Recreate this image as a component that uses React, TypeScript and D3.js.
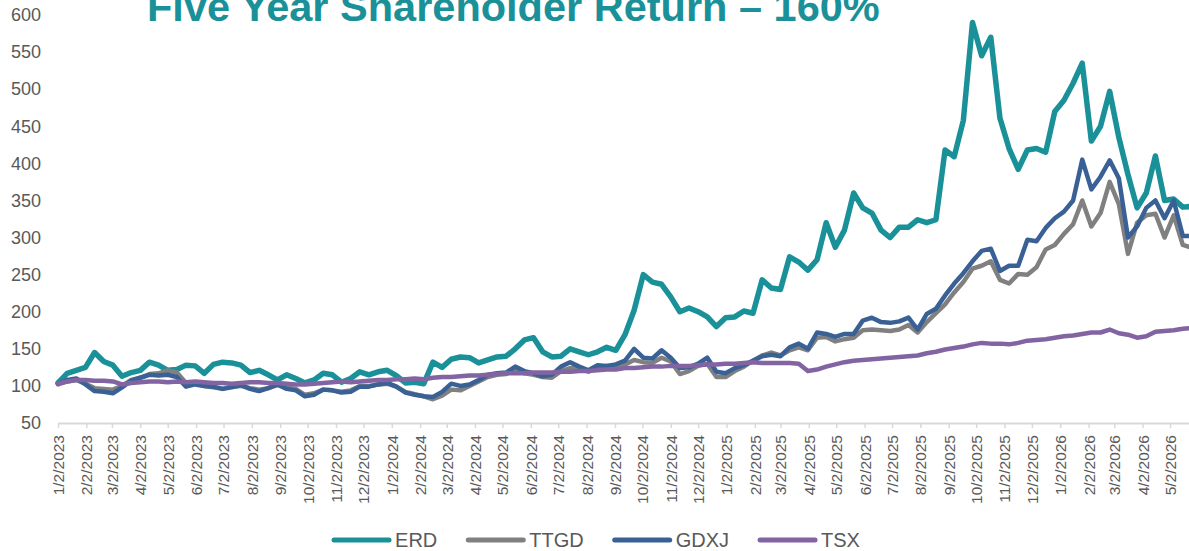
import { useEffect, useRef } from 'react'
import * as d3 from 'd3'

const seriesNames = ['ERD', 'TTGD', 'GDXJ', 'TSX']
const seriesColors = ['#1A9199', '#808080', '#3A6195', '#8264A3']
const seriesWidths = [5.5, 4.5, 4.5, 4.5]

// sampled every 10 days from the first trading day
const startLabel = '1/2/2023'
const stepDays = 10

const erd = [
  104, 117, 121, 125, 145, 133, 128, 113, 118, 121,
  132, 128, 121, 122, 128, 127, 117, 129, 132, 131,
  128, 118, 121, 115, 108, 115, 110, 104, 108, 117,
  115, 105, 110, 119, 115, 119, 121, 114, 104, 105,
  103, 132, 125, 136, 139, 138, 131, 135, 139, 140,
  150, 162, 165, 146, 139, 140, 150, 146, 142, 146,
  152, 148, 169, 202, 250, 240, 237, 220, 200, 205,
  200, 193, 180, 192, 193, 201, 198, 243, 232, 230,
  274, 267, 256, 270, 320, 287, 310, 360, 340, 333,
  310, 300, 314, 314, 324, 320, 324, 418, 409, 458,
  590, 545, 570, 461, 420, 392, 418, 420, 415, 470,
  485, 508, 535, 430, 450, 497, 435, 385, 340, 360,
  410, 350, 352, 341, 342,
]

const ttgd = [
  102, 106, 108, 103, 97, 96, 95, 100, 108, 111,
  116, 117, 121, 118, 104, 103, 100, 98, 96, 99,
  100, 97, 95, 97, 101, 98, 96, 88, 90, 95,
  94, 92, 94, 100, 100, 102, 103, 99, 92, 89,
  86, 82, 87, 95, 94, 100, 106, 112, 115, 116,
  122, 117, 115, 112, 111, 120, 124, 125, 119, 125,
  127, 127, 129, 135, 132, 131, 138, 133, 116, 120,
  127, 130, 112, 112, 120, 126, 134, 141, 145, 141,
  148, 152, 148, 165, 166, 160, 163, 165, 175, 176,
  175, 174, 176, 182, 172, 186, 198, 210, 226, 240,
  258, 262, 268, 243, 238, 251, 250, 260, 284, 290,
  305, 318, 350, 315, 333, 375, 345, 278, 320, 330,
  332, 300, 330, 290, 286,
]

const gdxj = [
  103, 108, 110, 102, 93, 92, 90, 98, 107, 111,
  115, 114, 115, 112, 99, 102, 100, 99, 96, 98,
  101, 96, 93, 97, 102, 96, 94, 86, 88, 95,
  94, 91, 92, 99, 99, 102, 104, 99, 91, 88,
  86, 85, 92, 103, 100, 102, 108, 115, 117, 118,
  126, 120, 117, 113, 115, 126, 132, 126, 121, 128,
  127, 129, 134, 150, 138, 137, 148, 138, 124, 125,
  130, 138, 119, 117, 124, 128, 134, 140, 142, 140,
  152, 157, 150, 172, 170, 166, 170, 170, 188, 192,
  186, 185, 187, 192, 176, 197, 204, 222, 238, 252,
  268, 282, 285, 255, 262, 262, 297, 295, 313, 326,
  335, 350, 405, 365, 382, 404, 380, 300, 315, 340,
  350, 326, 350, 302, 302,
]

const tsx = [
  103, 106, 108, 108, 107, 107, 106, 102, 104, 105,
  106, 106, 105, 106, 105, 106, 105, 104, 104, 103,
  104, 105, 105, 104, 104, 103, 102, 102, 103, 104,
  105, 106, 105, 106, 107, 108, 108, 109, 109, 110,
  109, 111, 112, 112, 113, 114, 114, 115, 116, 117,
  117, 117, 118, 118, 118, 119, 119, 120, 120, 121,
  122, 122, 124, 124, 125, 126, 126, 127, 127, 127,
  128, 129, 129, 130, 130, 131, 132, 131, 131, 131,
  131, 130, 120, 122, 126, 129, 132, 134, 135, 136,
  137, 138, 139, 140, 141, 144, 146, 149, 151, 153,
  156, 158, 157, 157, 156, 158, 161, 162, 163, 165,
  167, 168, 170, 172, 172, 176, 171, 169, 165, 167,
  173, 174, 175, 177, 178,
]

const monthLabels = [
  '1/2/2023', '2/2/2023', '3/2/2023', '4/2/2023', '5/2/2023', '6/2/2023',
  '7/2/2023', '8/2/2023', '9/2/2023', '10/2/2023', '11/2/2023', '12/2/2023',
  '1/2/2024', '2/2/2024', '3/2/2024', '4/2/2024', '5/2/2024', '6/2/2024',
  '7/2/2024', '8/2/2024', '9/2/2024', '10/2/2024', '11/2/2024', '12/2/2024',
  '1/2/2025', '2/2/2025', '3/2/2025', '4/2/2025', '5/2/2025', '6/2/2025',
  '7/2/2025', '8/2/2025', '9/2/2025', '10/2/2025', '11/2/2025', '12/2/2025',
  '1/2/2026', '2/2/2026', '3/2/2026', '4/2/2026', '5/2/2026',
]

const yTicks = [50, 100, 150, 200, 250, 300, 350, 400, 450, 500, 550, 600]

const titleText = 'Five Year Shareholder Return \u2013 160%'

export default function App() {
  const svgRef = useRef<SVGSVGElement>(null)

  useEffect(() => {
    if (!svgRef.current) return
    const w = 1189
    const h = 551
    const left = 58
    const top = 15
    const bottom = 423
    const font = 'Arial, "Liberation Sans", sans-serif'
    const textColor = '#595959'

    const svg = d3.select(svgRef.current)
    svg.selectAll('*').remove()
    svg.attr('width', w).attr('height', h)

    const parse = d3.timeParse('%m/%d/%Y')
    const start = parse(startLabel) as Date
    const dates = erd.map((_, i) => d3.timeDay.offset(start, i * stepDays))
    const end = dates[dates.length - 1]
    const totalDays = d3.timeDay.count(start, end)

    const x = d3
      .scaleTime()
      .domain([start, end])
      .range([left, left + totalDays * 0.9145])
    const y = d3.scaleLinear().domain([50, 600]).range([bottom, top])

    // x axis
    const tickDates = monthLabels.map((s) => parse(s) as Date)
    const xAxis = svg
      .append('g')
      .attr('transform', `translate(0,${bottom})`)
      .call(
        d3
          .axisBottom(x)
          .tickValues(tickDates)
          .tickFormat((_, i) => monthLabels[i])
          .tickSize(5)
          .tickSizeOuter(0)
      )
    xAxis.select('.domain').attr('stroke', '#d9d9d9').attr('stroke-width', 2)
    xAxis.selectAll('.tick line').attr('stroke', '#d9d9d9').attr('stroke-width', 1.5)
    xAxis
      .selectAll('.tick text')
      .attr('transform', 'rotate(-90)')
      .attr('x', -12)
      .attr('y', 0)
      .attr('dy', '0.35em')
      .style('text-anchor', 'end')
      .attr('fill', textColor)
      .attr('font-family', font)
      .attr('font-size', '15.5px')

    // y axis
    const yAxis = svg
      .append('g')
      .attr('transform', `translate(${left},0)`)
      .call(d3.axisLeft(y).tickValues(yTicks).tickSize(0).tickPadding(17))
    yAxis.select('.domain').remove()
    yAxis
      .selectAll('.tick text')
      .attr('fill', textColor)
      .attr('font-family', font)
      .attr('font-size', '18px')

    // lines, drawn in legend order so TSX sits on top
    const allSeries = [erd, ttgd, gdxj, tsx]
    const line = d3
      .line<number>()
      .x((_, i) => x(dates[i]))
      .y((d) => y(d))

    allSeries.forEach((values, k) => {
      svg
        .append('path')
        .datum(values)
        .attr('d', line)
        .attr('fill', 'none')
        .attr('stroke', seriesColors[k])
        .attr('stroke-width', seriesWidths[k])
        .attr('stroke-linejoin', 'round')
        .attr('stroke-linecap', 'round')
    })

    // title (its top runs off the page, as in the source slide)
    svg
      .append('text')
      .attr('x', 147)
      .attr('y', 21)
      .attr('fill', seriesColors[0])
      .attr('font-family', font)
      .attr('font-weight', 700)
      .attr('font-size', '41.5px')
      .text(titleText)

    // legend, centred under the chart
    const lineLen = 55
    const gap = 6
    const spacing = 31
    const legend = svg.append('g').attr('transform', 'translate(0,540)')
    const items = seriesNames.map((name, k) => {
      const g = legend.append('g')
      g.append('line')
        .attr('x1', 0)
        .attr('x2', lineLen)
        .attr('stroke', seriesColors[k])
        .attr('stroke-width', 5)
        .attr('stroke-linecap', 'round')
      const t = g
        .append('text')
        .attr('x', lineLen + gap)
        .attr('dy', '0.35em')
        .attr('fill', textColor)
        .attr('font-family', font)
        .attr('font-size', '20px')
        .text(name)
      const tw = (t.node() as SVGTextElement).getComputedTextLength()
      return { g, width: lineLen + gap + tw }
    })
    const total = d3.sum(items, (d) => d.width) + spacing * (items.length - 1)
    let cursor = 597 - total / 2
    items.forEach((it) => {
      it.g.attr('transform', `translate(${cursor},0)`)
      cursor += it.width + spacing
    })

    return () => {
      svg.selectAll('*').remove()
    }
  }, [])

  return (
    <svg
      ref={svgRef}
      style={{ position: 'absolute', left: 0, top: 0, background: '#fff' }}
    />
  )
}
